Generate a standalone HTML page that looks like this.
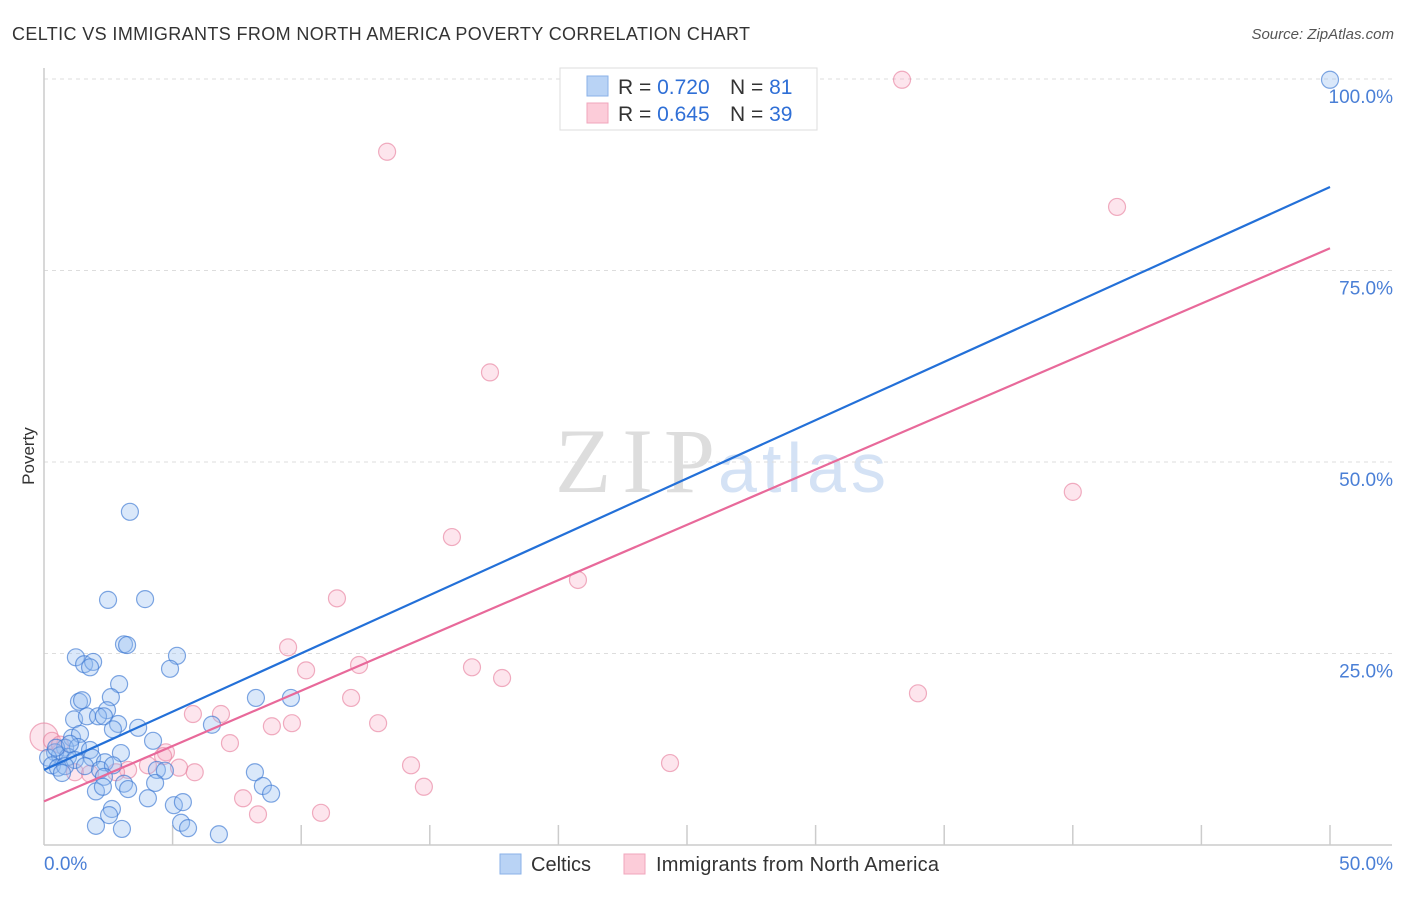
<!DOCTYPE html>
<html><head><meta charset="utf-8"><style>
body{margin:0;background:#fff;font-family:"Liberation Sans",sans-serif;}
</style></head><body>
<svg id="chart" width="1406" height="892" xmlns="http://www.w3.org/2000/svg">
<text x="12" y="40" font-size="18" fill="#333" textLength="738">CELTIC VS IMMIGRANTS FROM NORTH AMERICA POVERTY CORRELATION CHART</text>
<text x="1394" y="39" font-size="15" fill="#555" font-style="italic" text-anchor="end">Source: ZipAtlas.com</text>
<text x="34" y="456" font-size="17" fill="#333" text-anchor="middle" transform="rotate(-90 34 456)">Poverty</text>
<g><text x="555" y="492" font-size="92" font-family="Liberation Serif,serif" fill="#ddd" textLength="160">ZIP</text><text x="718" y="492" font-size="70" fill="#d4e2f5" textLength="168">atlas</text></g>
<g id="grid"></g><g id="marks"></g><g id="lines"></g>
<g>
<rect x="560" y="68" width="257" height="62" fill="#fff" stroke="#ddd"/>
<rect x="587" y="76" width="21" height="20" fill="#b9d3f5" stroke="#8ab2e8"/>
<rect x="587" y="103" width="21" height="20" fill="#fcccd9" stroke="#f0a6bc"/>
<text x="618" y="94" font-size="21" fill="#333">R = <tspan fill="#2f6fd6">0.720</tspan></text>
<text x="730" y="94" font-size="21" fill="#333">N = <tspan fill="#2f6fd6"> 81</tspan></text>
<text x="618" y="121" font-size="21" fill="#333">R = <tspan fill="#2f6fd6">0.645</tspan></text>
<text x="730" y="121" font-size="21" fill="#333">N = <tspan fill="#2f6fd6">39</tspan></text>
</g>
<g>
<rect x="500" y="854" width="21" height="20" fill="#b9d3f5" stroke="#8ab2e8"/>
<text x="531" y="871" font-size="20" fill="#333">Celtics</text>
<rect x="624" y="854" width="21" height="20" fill="#fcccd9" stroke="#f0a6bc"/>
<text x="656" y="871" font-size="20" fill="#333" textLength="283">Immigrants from North America</text>
</g>
</svg>
<script>
const blueX=[3.34,2.49,3.93,3.11,3.23,1.24,1.56,1.91,1.79,5.17,4.9,2.92,1.36,1.48,2.6,8.24,9.6,2.45,1.17,1.67,2.1,2.33,2.88,2.68,3.66,6.53,1.09,1.4,4.24,0.82,1.32,1.79,2.99,0.43,0.62,0.93,0.16,1.2,1.87,2.37,0.31,0.54,0.82,1.59,2.18,0.7,2.68,4.39,4.7,2.33,8.2,3.11,4.32,3.27,2.02,2.29,8.51,8.83,4.04,2.64,2.53,5.05,5.4,5.33,5.6,2.02,3.03,6.8,50,0.47,1.01];
const blueY=[43.5,32.0,32.1,26.2,26.1,24.5,23.6,23.9,23.2,24.7,23.0,21.0,18.7,18.9,19.3,19.2,19.2,17.6,16.4,16.8,16.8,16.8,15.8,15.1,15.3,15.7,14.0,14.5,13.6,12.7,12.8,12.4,12.0,12.1,11.7,11.5,11.4,11.1,11.4,10.8,10.4,10.1,10.3,10.3,9.8,9.4,10.4,9.8,9.7,8.9,9.5,8.0,8.1,7.3,7.0,7.6,7.7,6.7,6.1,4.7,3.9,5.2,5.6,2.9,2.2,2.5,2.1,1.4,99.9,12.7,13.2];
const pinkX=[33.36,13.34,41.72,17.34,40.0,15.86,20.76,11.39,9.49,10.19,16.64,12.25,17.81,33.98,11.94,5.79,6.88,8.86,9.64,12.99,7.23,4.74,4.63,4.04,5.25,5.86,24.34,14.27,3.27,2.8,1.2,1.79,14.77,7.74,8.32,10.77,0,0.31,0.62];
const pinkY=[99.9,90.5,83.3,61.7,46.1,40.2,34.6,32.2,25.8,22.8,23.2,23.5,21.8,19.8,19.2,17.1,17.1,15.5,15.9,15.9,13.3,12.1,11.6,10.4,10.1,9.5,10.7,10.4,9.8,9.5,9.5,9.3,7.6,6.1,4.0,4.2,14.1,13.6,13.1];
const blueLine=[9.8,85.9];
const pinkLine=[5.7,77.9];
const yTicks=[25,50,75,100];
const yTickLabels=["25.0%","50.0%","75.0%","100.0%"];
const xTicks=[5,10,15,20,25,30,35,40,45,50];
const NS="http://www.w3.org/2000/svg";
const sx=v=>44+v*25.72, sy=v=>845-v*7.66;
function mk(t,a,p){const e=document.createElementNS(NS,t);for(const k in a)e.setAttribute(k,a[k]);p.appendChild(e);return e;}
const grid=document.getElementById('grid'),marks=document.getElementById('marks'),lines=document.getElementById('lines');
yTicks.forEach((v,i)=>{
 const l=mk('line',{x1:44,x2:1392,y1:sy(v),y2:sy(v),stroke:'#ddd','stroke-dasharray':'4,4'},grid);
 
 
 const t=mk('text',{x:1393,y:sy(v)+24,'font-size':19,fill:'#4a7fd6','text-anchor':'end'},grid);t.textContent=yTickLabels[i];
 
 
});
xTicks.forEach(v=>{
 const l=mk('line',{x1:sx(v),x2:sx(v),y1:845,y2:825,stroke:'#ccc','stroke-width':1.5},grid);
 
 
});
const ax=mk('line',{x1:44,x2:44,y1:68,y2:845,stroke:'#ccc','stroke-width':1.5},grid);


const bx=mk('line',{x1:44,x2:1392,y1:845,y2:845,stroke:'#ccc','stroke-width':1.5},grid);


const x0=mk('text',{x:44,y:870,'font-size':19,fill:'#4a7fd6'},grid);x0.textContent='0.0%';


const x1=mk('text',{x:1393,y:870,'font-size':19,fill:'#4a7fd6','text-anchor':'end'},grid);x1.textContent='50.0%';


pinkX.forEach((v,i)=>{
 const c=mk('circle',{cx:sx(v),cy:sy(pinkY[i]),r:(v===0?14:8.5),fill:'rgba(248,170,195,0.3)',stroke:'rgba(232,130,160,0.65)','stroke-width':1.2},marks);
 
 
});
blueX.forEach((v,i)=>{
 const c=mk('circle',{cx:sx(v),cy:sy(blueY[i]),r:8.5,fill:'rgba(150,190,240,0.35)',stroke:'rgba(60,120,210,0.65)','stroke-width':1.2},marks);
 
 
});
const b=mk('line',{x1:sx(0),y1:sy(blueLine[0]),x2:sx(50),y2:sy(blueLine[1]),stroke:'#2370d8','stroke-width':2.2},lines);


const p=mk('line',{x1:sx(0),y1:sy(pinkLine[0]),x2:sx(50),y2:sy(pinkLine[1]),stroke:'#e8699a','stroke-width':2.2},lines);


</script>
</body></html>
